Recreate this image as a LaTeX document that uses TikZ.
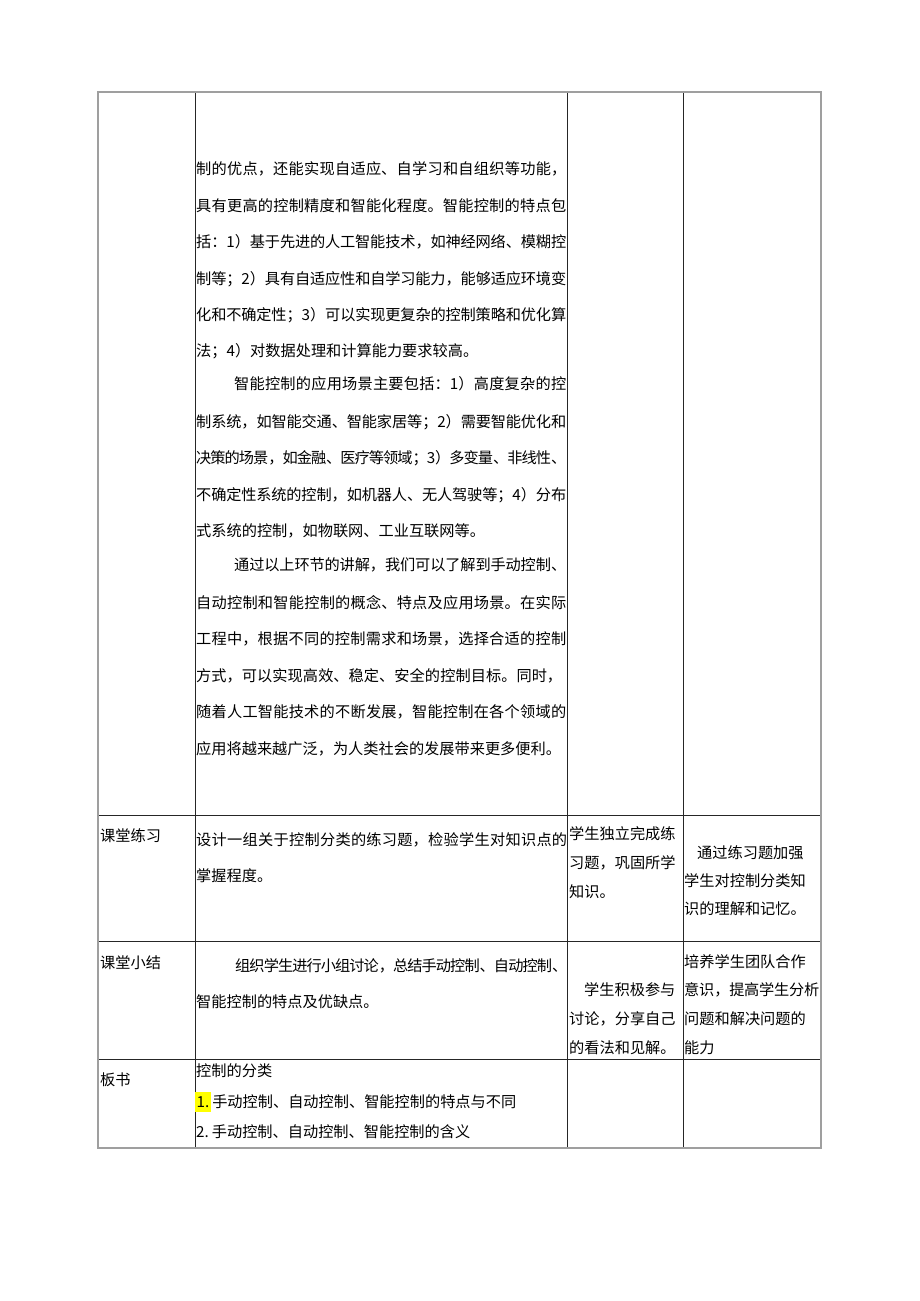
\documentclass[tikz,border=0pt]{standalone}
\usepackage{fontspec}
\newfontfamily\cjk{Noto Sans CJK SC}
\XeTeXlinebreaklocale "zh"
\XeTeXlinebreakskip=0pt plus 2pt minus 1.5pt
\usetikzlibrary{positioning}
\tikzstyle{txt} = [anchor=west, inner sep=0pt, font=\cjk\fontsize{15.2}{18}\selectfont]
\tikzstyle{border} = [line width=1.3pt, gray!75]
\tikzstyle{rule} = [line width=0.7pt, black!85]
\newcommand{\justline}[2]{\parbox{#1pt}{\parfillskip=0pt\relax #2}}
\definecolor{marker}{HTML}{FFFF00}

\begin{document}
\begin{tikzpicture}[x=1pt,y=-1pt]
			\useasboundingbox (0,0) rectangle (920,1301);
			% table rules
			\draw[rule] (195,92)--(195,1148);
			\draw[rule] (567,92)--(567,1148);
			\draw[rule] (683,92)--(683,1148);
			\draw[rule] (98,815)--(821,815);
			\draw[rule] (98,941)--(821,941);
			\draw[rule] (98,1059)--(821,1059);
			\draw[border] (98,92) rectangle (821,1148);
			% teaching content, first row
			\node[txt] (pa1) at (196,169) {\justline{370}{制的优点，还能实现自适应、自学习和自组织等功能，}};
			\node[txt] (pa2) at (196,206) {\justline{370}{具有更高的控制精度和智能化程度。智能控制的特点包}};
			\node[txt] (pa3) at (196,242) {\justline{370}{括：1）基于先进的人工智能技术，如神经网络、模糊控}};
			\node[txt] (pa4) at (196,279) {\justline{370}{制等；2）具有自适应性和自学习能力，能够适应环境变}};
			\node[txt] (pa5) at (196,315) {\justline{370}{化和不确定性；3）可以实现更复杂的控制策略和优化算}};
			\node[txt] (pa6) at (196,351) {法；4）对数据处理和计算能力要求较高。};
			\node[txt] (pb1) at (234,384) {\justline{332}{智能控制的应用场景主要包括：1）高度复杂的控}};
			\node[txt] (pb2) at (196,422) {\justline{370}{制系统，如智能交通、智能家居等；2）需要智能优化和}};
			\node[txt] (pb3) at (196,458) {\justline{370}{决策的场景，如金融、医疗等领域；3）多变量、非线性、}};
			\node[txt] (pb4) at (196,495) {\justline{370}{不确定性系统的控制，如机器人、无人驾驶等；4）分布}};
			\node[txt] (pb5) at (196,531) {式系统的控制，如物联网、工业互联网等。};
			\node[txt] (pc1) at (234,565) {\justline{332}{通过以上环节的讲解，我们可以了解到手动控制、}};
			\node[txt] (pc2) at (196,603) {\justline{370}{自动控制和智能控制的概念、特点及应用场景。在实际}};
			\node[txt] (pc3) at (196,639) {\justline{370}{工程中，根据不同的控制需求和场景，选择合适的控制}};
			\node[txt] (pc4) at (196,676) {\justline{366}{方式，可以实现高效、稳定、安全的控制目标。同时，}};
			\node[txt] (pc5) at (196,712) {\justline{370}{随着人工智能技术的不断发展，智能控制在各个领域的}};
			\node[txt] (pc6) at (196,749) {应用将越来越广泛，为人类社会的发展带来更多便利。};
			% classroom practice
			\node[txt] (practice) at (100,836) {课堂练习};
			\node[txt] (practiceA) at (196,840) {\justline{371}{设计一组关于控制分类的练习题，检验学生对知识点的}};
			\node[txt] (practiceB) at (196,876) {掌握程度。};
			\node[txt] (practiceC) at (569,834) {学生独立完成练};
			\node[txt] (practiceD) at (569,863) {习题，巩固所学};
			\node[txt] (practiceE) at (569,892) {知识。};
			\node[txt] (practiceF) at (697,853) {通过练习题加强};
			\node[txt] (practiceG) at (684,881) {学生对控制分类知};
			\node[txt] (practiceH) at (684,909) {识的理解和记忆。};
			% classroom summary
			\node[txt] (summary) at (100,963) {课堂小结};
			\node[txt] (summaryA) at (235,966) {\justline{332}{组织学生进行小组讨论，总结手动控制、自动控制、}};
			\node[txt] (summaryB) at (196,1002) {智能控制的特点及优缺点。};
			\node[txt] (summaryC) at (584,990) {学生积极参与};
			\node[txt] (summaryD) at (569,1019) {讨论，分享自己};
			\node[txt] (summaryE) at (569,1048) {的看法和见解。};
			\node[txt] (summaryF) at (684,962) {培养学生团队合作};
			\node[txt] (summaryG) at (684,990) {\justline{135}{意识，提高学生分析}};
			\node[txt] (summaryH) at (684,1019) {问题和解决问题的};
			\node[txt] (summaryI) at (684,1048) {能力};
			% blackboard
			\node[txt] (board) at (100,1080) {板书};
			\node[txt] (boardA) at (196,1071) {控制的分类};
			\node[txt, fill=marker, inner xsep=1.5pt, minimum height=20pt] (num1) at (195,1102) {1.};
			\node[txt, right=1pt of num1] (boardB) {手动控制、自动控制、智能控制的特点与不同};
			\node[txt] (boardC) at (196,1132) {2.\hspace{3pt}手动控制、自动控制、智能控制的含义};
		\end{tikzpicture}
\end{document}
